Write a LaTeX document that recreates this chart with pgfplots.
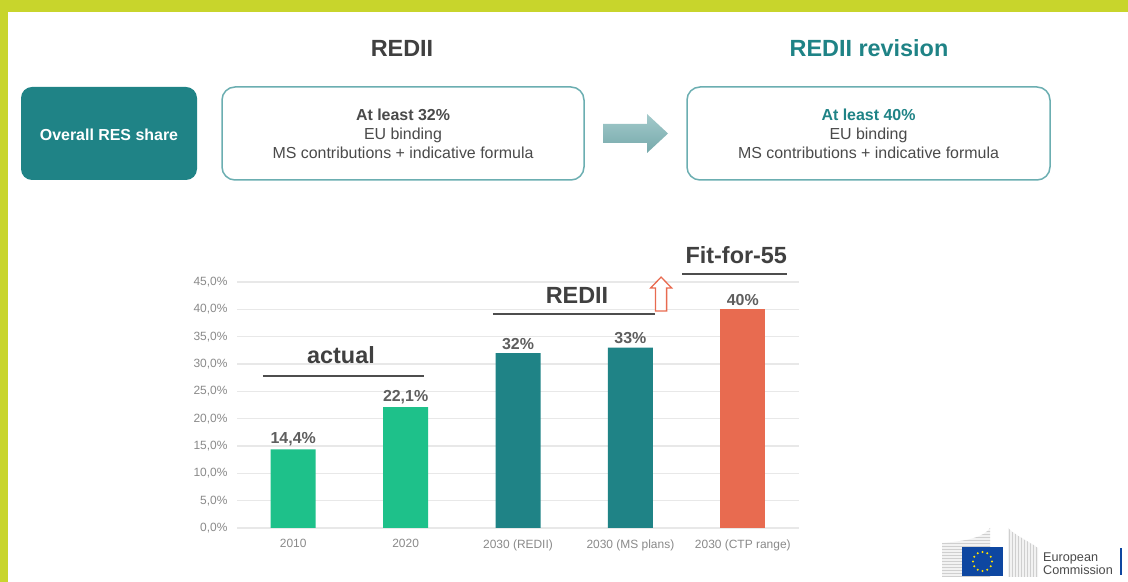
\documentclass[border=0pt]{standalone}
\usepackage{pgfplots}
\pgfplotsset{compat=1.18}
\usepackage{fontspec}
\setmainfont{Liberation Sans}
\definecolor{ygreen}{HTML}{C8D52C}
\definecolor{tealc}{HTML}{1F8386}
\definecolor{greenc}{HTML}{1EC18A}
\definecolor{orangec}{HTML}{E86B50}
\definecolor{boxborder}{HTML}{6BAEB1}
\definecolor{arrowtop}{HTML}{A3CACB}
\definecolor{arrowbot}{HTML}{76A9AB}
\definecolor{darktext}{HTML}{404040}
\definecolor{boxtext}{HTML}{4A4A4A}
\definecolor{valtext}{HTML}{5E5E5E}
\definecolor{linegray}{HTML}{4D4D4D}
\definecolor{tickgray}{HTML}{8A8A8A}
\definecolor{gridgray}{HTML}{E8E8E8}
\definecolor{eublue}{HTML}{0E47A1}
\definecolor{euyellow}{HTML}{FFE000}
\definecolor{bldgray}{HTML}{CFCFCF}
\newcommand{\fs}[1]{\fontsize{#1}{#1}\selectfont}
\begin{document}
\begin{tikzpicture}[x=1bp,y=1bp]
% background and frame
\fill[white] (0,0) rectangle (1128,582);
\fill[ygreen] (0,570) rectangle (1128,582);
\fill[ygreen] (0,0) rectangle (7.5,582);
% headings
\node[anchor=base, font=\fs{23.5}\bfseries, text=darktext, inner sep=0pt] at (402,525) {REDII};
\node[anchor=base, font=\fs{23.5}\bfseries, text=tealc, inner sep=0pt] at (869,525) {REDII revision};
% boxes
\fill[tealc, rounded corners=11bp] (21,402) rectangle (197,495);
\node[anchor=base, font=\fs{16}\bfseries, text=white, inner sep=0pt] at (109,441.3) {Overall RES share};
\draw[boxborder, line width=1.5bp, fill=white, rounded corners=13bp] (222,402) rectangle (584,495);
\node[anchor=base, font=\fs{16}\bfseries, text=boxtext, inner sep=0pt] at (403,461.3) {At least 32\%};
\node[anchor=base, font=\fs{16}, text=boxtext, inner sep=0pt] at (403,442.7) {EU binding};
\node[anchor=base, font=\fs{16}, text=boxtext, inner sep=0pt] at (403,423.3) {MS contributions + indicative formula};
\draw[boxborder, line width=1.5bp, fill=white, rounded corners=13bp] (687,402) rectangle (1050,495);
\node[anchor=base, font=\fs{16}\bfseries, text=tealc, inner sep=0pt] at (868.5,461.3) {At least 40\%};
\node[anchor=base, font=\fs{16}, text=boxtext, inner sep=0pt] at (868.5,442.7) {EU binding};
\node[anchor=base, font=\fs{16}, text=boxtext, inner sep=0pt] at (868.5,423.3) {MS contributions + indicative formula};
% block arrow
\shade[top color=arrowtop, bottom color=arrowbot] (603,458) -- (647,458) -- (647,468) -- (668,448.5) -- (647,429) -- (647,439) -- (603,439) -- cycle;
% chart
\begin{axis}[
  at={(237bp,54bp)}, anchor=south west,
  scale only axis, width=562bp, height=246bp,
  xmin=-0.5, xmax=4.5, ymin=0, ymax=45,
  ybar, bar width=45bp,
  xtick={0,1,2,3,4},
  xticklabels={2010,2020,2030 (REDII),2030 (MS plans),2030 (CTP range)},
  ytick={0,5,...,45},
  /pgf/number format/assume math mode=true,
  yticklabel={\pgfmathprintnumber[fixed,fixed zerofill,precision=1,use comma]{\tick}\%},
  ymajorgrids, grid style={draw=gridgray, line width=1.1bp},
  axis line style={draw=none},
  major tick length=0pt,
  tick label style={font=\fs{12}, text=tickgray},
  yticklabel style={xshift=-6bp},
  xticklabel style={yshift=-8bp},
  clip=false,
  nodes near coords={\pgfmathprintnumber[use comma]{\pgfplotspointmeta}\%},
  every node near coord/.append style={font=\fs{16}\bfseries, text=valtext},
]
\addplot[fill=greenc, draw=none, bar shift=0pt] coordinates {(0,14.4) (1,22.1)};
\addplot[fill=tealc, draw=none, bar shift=0pt] coordinates {(2,32) (3,33)};
\addplot[fill=orangec, draw=none, bar shift=0pt] coordinates {(4,40)};
% group annotations
\draw[line width=2bp, draw=linegray] (axis cs:-0.27,27.8) -- (axis cs:1.16,27.8);
\node[anchor=base, font=\fs{23.5}\bfseries, text=darktext, inner sep=0pt] at (axis cs:0.425,30.0) {actual};
\draw[line width=2bp, draw=linegray] (axis cs:1.777,39.15) -- (axis cs:3.219,39.15);
\node[anchor=base, font=\fs{23.5}\bfseries, text=darktext, inner sep=0pt] at (axis cs:2.525,41.1) {REDII};
\draw[line width=2bp, draw=linegray] (axis cs:3.459,46.4) -- (axis cs:4.393,46.4);
\node[anchor=base, font=\fs{23.5}\bfseries, text=darktext, inner sep=0pt] at (axis cs:3.942,48.3) {Fit-for-55};
\draw[orangec, line width=1.3bp, fill=white, line join=miter]
  (axis cs:3.224,39.7) -- (axis cs:3.224,43.9) -- (axis cs:3.18,43.9) -- (axis cs:3.273,45.9)
  -- (axis cs:3.367,43.9) -- (axis cs:3.322,43.9) -- (axis cs:3.322,39.7) -- cycle;
\end{axis}
% European Commission logo
\begin{scope}
\clip (942,5) -- (942,39) .. controls (968,41) and (984,45) .. (990,54) -- (990,5) -- cycle;
\fill[gray!10] (940,3) rectangle (992,56);
\foreach \yy in {6,9,...,56} { \draw[bldgray, line width=0.8bp] (940,\yy) -- (992,\yy); }
\end{scope}
\begin{scope}
\clip (1008,5) -- (1008,54) .. controls (1016,46) and (1030,40) .. (1038,34) -- (1038,5) -- cycle;
\fill[gray!10] (1006,3) rectangle (1040,56);
\foreach \xx in {1009,1012,...,1040} { \draw[bldgray, line width=0.8bp] (\xx,3) -- (\xx,56); }
\end{scope}
\fill[eublue] (962,6) rectangle (1003,35);
\foreach \a in {0,30,...,330} { \fill[euyellow] ({982.5+9.5*cos(\a)},{20.5+9.5*sin(\a)}) circle (1.2); }
\node[anchor=base west, font=\fs{12.7}, text=boxtext, inner sep=0pt] at (1043,20) {European};
\node[anchor=base west, font=\fs{12.7}, text=boxtext, inner sep=0pt] at (1043,7) {Commission};
\fill[eublue] (1119.5,7) rectangle (1122,34);
\end{tikzpicture}
\end{document}
